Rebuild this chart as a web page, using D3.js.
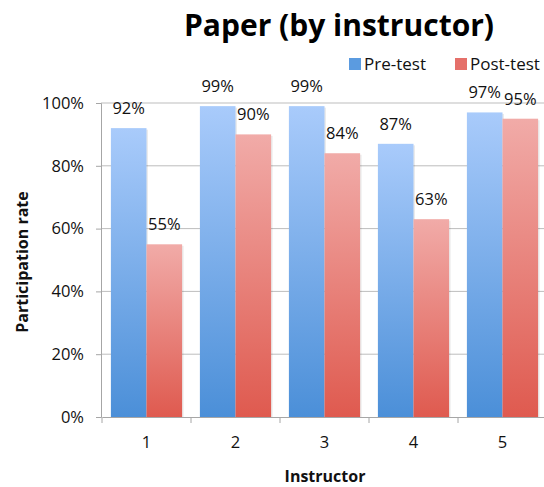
<!DOCTYPE html>
<html><head><meta charset="utf-8">
<script src="https://cdn.jsdelivr.net/npm/d3@7"></script>
<style>body{margin:0;background:#fff;}svg{display:block;font-family:"Open Sans",sans-serif;}</style>
</head><body><svg id="c" width="544" height="487"></svg>
<script>
const categories = ["1","2","3","4","5"];
const seriesNames = ["Pre-test","Post-test"];
const preTest = [92,99,99,87,97];
const postTest = [55,90,84,63,95];
const yTicks = [0,20,40,60,80,100];

const svg = d3.select("#c");
const W=544,H=487;
const x = d3.scaleBand().domain(categories).range([102,547]).paddingInner(0).paddingOuter(0);
const xs = d3.scaleBand().domain(seriesNames).range([0,x.bandwidth()]).paddingInner(0).paddingOuter(0.25);
const y = d3.scaleLinear().domain([0,100]).range([417,103]);

const defs = svg.append("defs");
const gb = defs.append("linearGradient").attr("id","gBlue").attr("x1",0).attr("y1",0).attr("x2",0).attr("y2",1);
gb.append("stop").attr("offset","0%").attr("stop-color","#a9cbfb");
gb.append("stop").attr("offset","100%").attr("stop-color","#4b8fd8");
const gr = defs.append("linearGradient").attr("id","gRed").attr("x1",0).attr("y1",0).attr("x2",0).attr("y2",1);
gr.append("stop").attr("offset","0%").attr("stop-color","#f1aba8");
gr.append("stop").attr("offset","100%").attr("stop-color","#df5a4f");
const fills = {"Pre-test":"url(#gBlue)","Post-test":"url(#gRed)"};
const legendFills = {"Pre-test":"#5b9be0","Post-test":"#e5706a"};

// gridlines
svg.append("g").selectAll("line").data(yTicks.filter(d=>d>0)).join("line")
  .attr("x1",101).attr("x2",W).attr("y1",d=>y(d)).attr("y2",d=>y(d))
  .attr("stroke","#bdbdbd").attr("stroke-width",1);

// y axis
const yAxis = svg.append("g").attr("transform","translate(101,0)")
  .call(d3.axisLeft(y).tickValues(yTicks).tickFormat(d=>d+"%").tickSize(5).tickPadding(12));
yAxis.select(".domain").attr("stroke","#a6a6a6");
yAxis.selectAll(".tick line").attr("stroke","#a6a6a6");
yAxis.selectAll("text").attr("font-size",16.5).attr("fill","#111").attr("font-family","Open Sans, sans-serif");

// bars
const data = categories.map((c,i)=>({c, vals:[{s:"Pre-test",v:preTest[i]},{s:"Post-test",v:postTest[i]}]}));
const grp = svg.append("g").selectAll("g").data(data).join("g").attr("transform",d=>`translate(${x(d.c)},0)`);
grp.selectAll("rect.sh").data(d=>d.vals).join("rect").attr("class","sh")
  .attr("x",d=>xs(d.s)+1.5).attr("y",d=>y(d.v)+1.5).attr("width",xs.bandwidth()).attr("height",d=>y(0)-y(d.v)-1.5)
  .attr("fill","#000").attr("opacity",0.08);
grp.selectAll("rect.b").data(d=>d.vals).join("rect").attr("class","b")
  .attr("x",d=>xs(d.s)).attr("y",d=>y(d.v)).attr("width",xs.bandwidth()).attr("height",d=>y(0)-y(d.v))
  .attr("fill",d=>fills[d.s]);
grp.selectAll("text").data(d=>d.vals).join("text")
  .attr("x",d=>xs(d.s)+xs.bandwidth()/2).attr("y",d=>y(d.v)-14)
  .attr("text-anchor","middle").attr("font-size",16.5).attr("fill","#111")
  .text(d=>d.v+"%");

// x axis
const xAxis = svg.append("g").attr("transform","translate(0,417)")
  .call(d3.axisBottom(x).tickSize(0).tickPadding(19));
xAxis.select(".domain").attr("stroke","#a6a6a6");
xAxis.selectAll("text").attr("font-size",16.5).attr("fill","#111").attr("font-family","Open Sans, sans-serif");
svg.append("g").selectAll("line").data(categories.concat(["end"])).join("line")
  .attr("x1",(d,i)=>102+i*x.bandwidth()).attr("x2",(d,i)=>102+i*x.bandwidth())
  .attr("y1",417).attr("y2",423).attr("stroke","#a6a6a6");

// title
svg.append("text").attr("x",339).attr("y",36).attr("text-anchor","middle")
  .attr("font-size",30).attr("font-weight","bold").attr("fill","#000").text("Paper (by instructor)");

// legend
const leg = svg.append("g");
const legX = [349,455];
seriesNames.forEach((s,i)=>{
  leg.append("rect").attr("x",legX[i]).attr("y",58).attr("width",12).attr("height",12).attr("fill",legendFills[s]);
  leg.append("text").attr("x",legX[i]+15).attr("y",70).attr("font-size",17).attr("fill","#111").text(s);
});

// axis titles
svg.append("text").attr("transform","translate(28,262) rotate(-90)").attr("text-anchor","middle")
  .attr("font-size",16).attr("font-weight","bold").attr("fill","#111").text("Participation rate");
svg.append("text").attr("x",325).attr("y",482).attr("text-anchor","middle")
  .attr("font-size",16).attr("font-weight","bold").attr("fill","#111").text("Instructor");
</script></body></html>
